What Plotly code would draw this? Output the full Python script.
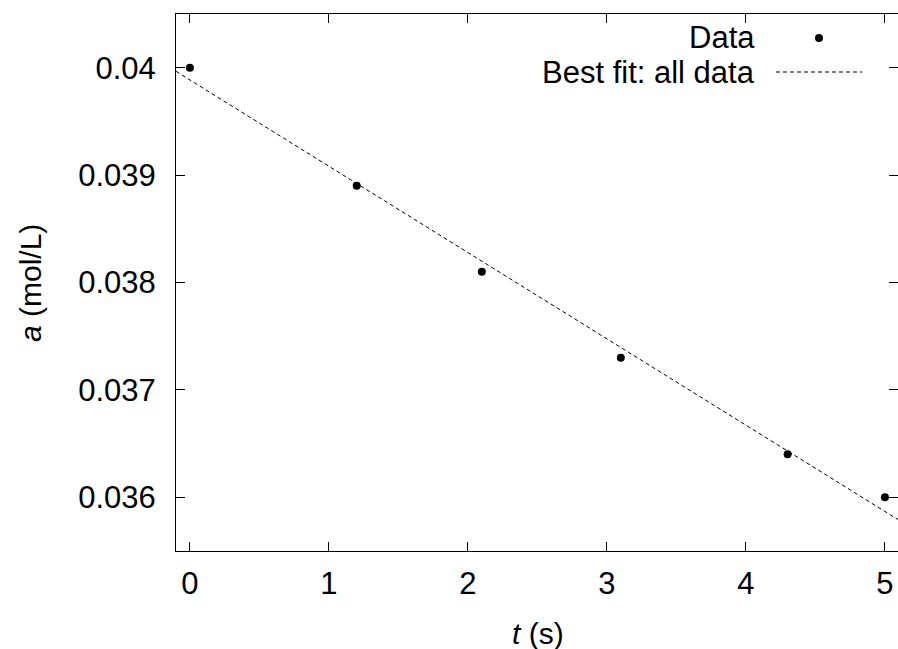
import numpy as np
import plotly.graph_objects as go

# Data
t_vals = [0.0, 1.2, 2.1, 3.1, 4.3, 5.0]
a_vals = [0.0400, 0.0389, 0.0381, 0.0373, 0.0364, 0.0360]
x_ticks = [0, 1, 2, 3, 4, 5]
x_ticktext = ["0", "1", "2", "3", "4", "5"]
y_ticks = [0.036, 0.037, 0.038, 0.039, 0.040]
y_ticktext = ["0.036", "0.037", "0.038", "0.039", "0.04"]

# Best fit (least squares over all data)
slope, intercept = np.polyfit(t_vals, a_vals, 1)
x_range = [-0.1, 5.094]
fit_x = np.array(x_range)
fit_y = slope * fit_x + intercept

W, H = 898, 649
ML, MR, MT, MB = 176, 0, 14, 98
PW, PH = W - ML - MR, H - MT - MB
FONT = "Liberation Sans, Arial, sans-serif"

def px(xp):
    return (xp - ML) / PW

def py(yp):
    return 1 - (yp - MT) / PH

fig = go.Figure()
fig.add_trace(go.Scatter(x=fit_x, y=fit_y, mode="lines",
                         line=dict(color="black", width=1, dash="4px,3px"),
                         hoverinfo="skip", showlegend=False))
fig.add_trace(go.Scatter(x=t_vals, y=a_vals, mode="markers",
                         marker=dict(color="black", size=8),
                         showlegend=False))

axis_common = dict(showline=True, linecolor="black", linewidth=1, mirror="ticks",
                   ticks="inside", ticklen=9, tickwidth=1, tickcolor="black",
                   showgrid=False, zeroline=False,
                   tickfont=dict(family=FONT, size=31, color="black"))

fig.update_xaxes(range=x_range, tickvals=x_ticks, ticktext=x_ticktext,
                 ticklabelstandoff=5, **axis_common)
fig.update_yaxes(range=[0.0355, 0.0405], tickvals=y_ticks, ticktext=y_ticktext,
                 ticklabelstandoff=13, **axis_common)

annotations = [
    dict(text="Data", x=px(757), y=py(38), xanchor="right", yanchor="middle", size=31),
    dict(text="Best fit: all data", x=px(757), y=py(72), xanchor="right", yanchor="middle", size=31),
    dict(text="<i>t</i> (s)", x=px(538), y=py(633), xanchor="center", yanchor="middle", size=30),
    dict(text="<i>a</i> (mol/L)", x=px(30), y=py(283), xanchor="center", yanchor="middle",
         textangle=-90, size=30),
]
for a in annotations:
    s = a.pop("size")
    a.update(xref="paper", yref="paper", showarrow=False,
             font=dict(family=FONT, size=s, color="black"))

shapes = [
    dict(type="circle", xref="paper", yref="paper", xsizemode="pixel", ysizemode="pixel",
         xanchor=px(819), yanchor=py(38), x0=-4, x1=4, y0=-4, y1=4,
         fillcolor="black", line=dict(width=0)),
    dict(type="line", xref="paper", yref="paper", x0=px(776), x1=px(862),
         y0=py(72), y1=py(72), line=dict(color="black", width=1, dash="4px,3px")),
]

fig.update_layout(width=W, height=H, margin=dict(l=ML, r=MR, t=MT, b=MB, pad=0),
                  paper_bgcolor="white", plot_bgcolor="white",
                  annotations=annotations, shapes=shapes,
                  font=dict(family=FONT, color="black"), showlegend=False)

fig.write_html("out.html", config={"displayModeBar": False},
               post_script="document.body.style.margin='0';document.body.style.overflow='hidden';")
